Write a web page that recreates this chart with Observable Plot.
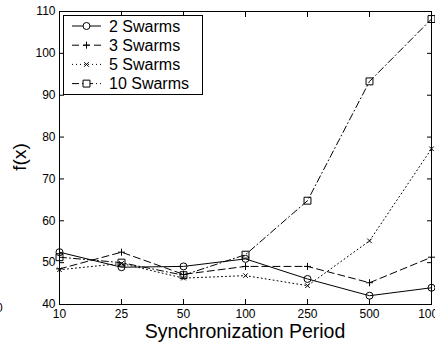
<!DOCTYPE html>
<html><head><meta charset="utf-8">
<script src="https://cdn.jsdelivr.net/npm/d3@7"></script>
<script src="https://cdn.jsdelivr.net/npm/@observablehq/plot@0.6"></script>
<style>
html,body{margin:0;padding:0;background:#fff;overflow:hidden}
#wrap{position:relative;width:435px;height:343px;overflow:hidden;font-family:"Liberation Sans",Arial,Helvetica,sans-serif;color:#000;background:#fff}
.abs{position:absolute;line-height:1;white-space:nowrap}
#legend{position:absolute;left:63px;top:15px;width:138px;height:78px;border:1px solid #000;background:#fff}
</style></head><body><div id="wrap"></div>
<script>
const periods = ["10", "25", "50", "100", "250", "500", "1000"];
const yTicks = [40, 50, 60, 70, 80, 90, 100, 110];
const seriesNames = ["2 Swarms", "3 Swarms", "5 Swarms", "10 Swarms"];
const swarms2 = [52.5, 48.9, 49.1, 50.9, 46.1, 42.1, 44.0];
const swarms3 = [48.5, 52.5, 47.2, 49.1, 49.1, 45.2, 51.3];
const swarms5 = [48.3, 49.8, 46.3, 46.9, 44.5, 55.2, 77.2];
const swarms10 = [51.3, 50.0, 47.0, 51.9, 64.8, 93.3, 108.2];
const xTitle = "Synchronization Period";
const yTitle = "f(x)";

const styles = [
  {symbol: "circle", r: 3.5, dash: null},
  {symbol: "plus", r: 2.4, dash: "7,4"},
  {symbol: "times", r: 2.2, dash: "1,3"},
  {symbol: "square", r: 3.9, dash: "7,3,1,3"}
];
const allValues = [swarms2, swarms3, swarms5, swarms10];
const series = seriesNames.map((name, k) => ({
  name, ...styles[k],
  rows: allValues[k].map((v, i) => ({period: periods[i], value: v}))
}));

const seriesMarks = series.flatMap(s => [
  Plot.line(s.rows, {x: "period", y: "value", stroke: "black", strokeWidth: 1, strokeDasharray: s.dash}),
  Plot.dot(s.rows, {x: "period", y: "value", symbol: s.symbol, r: s.r, stroke: "black", fill: "none", strokeWidth: 1})
]);

const plot = Plot.plot({
  width: 435, height: 343,
  marginLeft: 59, marginRight: 4, marginTop: 11, marginBottom: 39,
  style: {fontFamily: '"Liberation Sans", Arial, sans-serif', fontSize: "12px", color: "black", background: "white"},
  x: {type: "point", domain: periods, padding: 0, label: null},
  y: {domain: [40, 110], label: null},
  marks: [
    Plot.axisX(periods, {anchor: "bottom", tickSize: 0, tickPadding: 5, label: null}),
    Plot.axisX(periods, {anchor: "bottom", tickSize: -5, tickFormat: () => "", label: null}),
    Plot.axisX(periods, {anchor: "top", tickSize: -5, tickFormat: () => "", label: null}),
    Plot.axisY(yTicks, {anchor: "left", tickSize: 0, tickPadding: 4, label: null}),
    Plot.axisY(yTicks, {anchor: "left", tickSize: -5, tickFormat: () => "", label: null}),
    Plot.axisY(yTicks, {anchor: "right", tickSize: -5, tickFormat: () => "", label: null}),
    Plot.frame({stroke: "black", strokeWidth: 1}),
    ...seriesMarks
  ]
});

const wrap = document.getElementById("wrap");
wrap.appendChild(plot);

function addText(txt, css) {
  const d = document.createElement("div");
  d.className = "abs";
  d.textContent = txt;
  Object.assign(d.style, css);
  wrap.appendChild(d);
  return d;
}
addText(xTitle, {left: "245px", top: "321.5px", fontSize: "19.5px", transform: "translateX(-50%)"});
addText(yTitle, {left: "19px", top: "157px", fontSize: "19px", transform: "translate(-50%,-50%) rotate(-90deg)"});
addText("0", {left: "-4px", top: "302px", fontSize: "12px"});

// legend
const symMap = {circle: d3.symbolCircle, plus: d3.symbolPlus, times: d3.symbolTimes, square: d3.symbolSquare};
const leg = document.createElement("div");
leg.id = "legend";
wrap.appendChild(leg);
const lsvg = d3.select(leg).append("svg").attr("width", 138).attr("height", 78)
  .style("position", "absolute").style("left", 0).style("top", 0);
series.forEach((s, i) => {
  const cy = 10 + i * 19.2;
  lsvg.append("line").attr("x1", 8).attr("x2", 37).attr("y1", cy).attr("y2", cy)
    .attr("stroke", "black").attr("stroke-width", 1).attr("stroke-dasharray", s.dash);
  lsvg.append("path").attr("transform", `translate(22.5,${cy})`)
    .attr("d", d3.symbol(symMap[s.symbol], s.r * s.r * Math.PI)())
    .attr("fill", s.symbol === "circle" || s.symbol === "square" ? "white" : "none").attr("stroke", "black");
  lsvg.append("text").attr("x", 45).attr("y", cy).attr("dy", "0.36em")
    .attr("font-family", '"Liberation Sans", Arial, sans-serif').attr("font-size", 16).text(s.name);
});
</script>
</body></html>
